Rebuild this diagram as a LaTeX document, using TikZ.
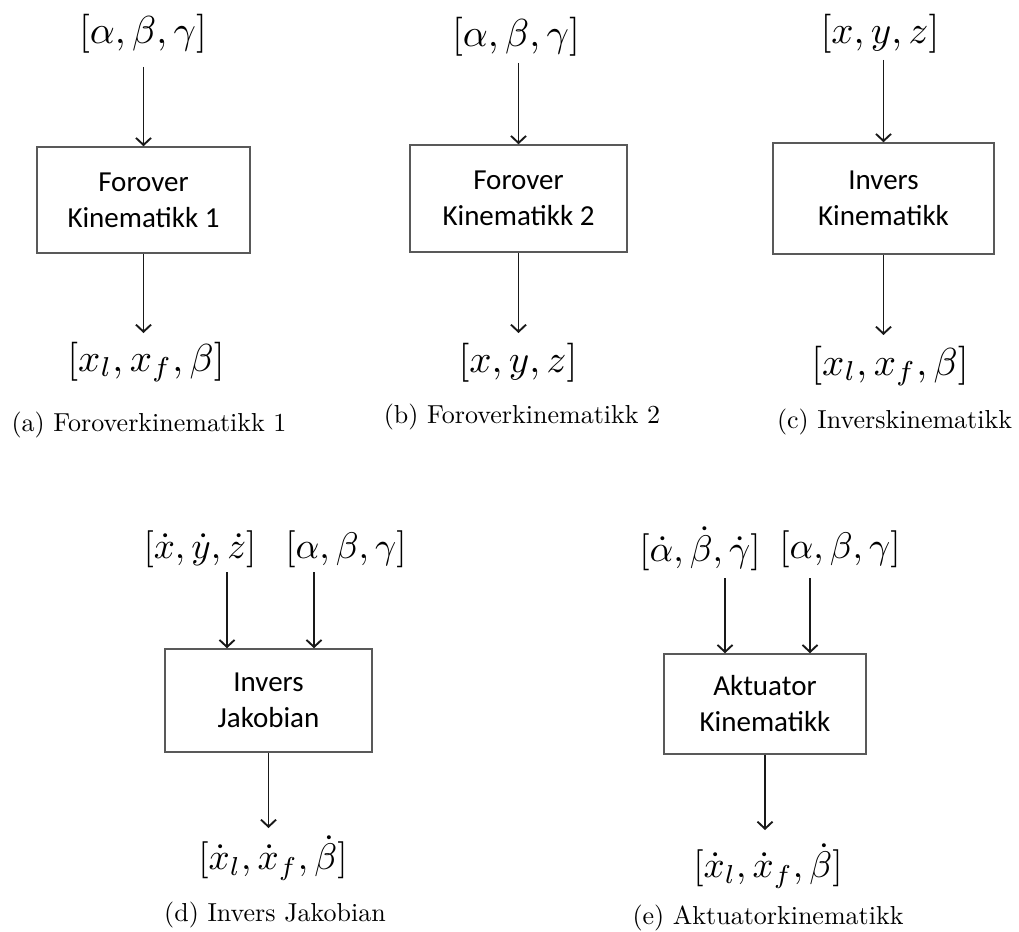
\documentclass[tikz,border=0pt]{standalone}
\usepackage{fontspec}
\newfontfamily\boxfont{Carlito}
\usetikzlibrary{arrows.meta}
\newcommand{\mlabA}[1]{\scalebox{3.9}{$#1$}}
\newcommand{\mlabB}[1]{\scalebox{3.7}{$#1$}}
\newcommand{\caplab}[1]{\scalebox{2.6}{#1}}
\tikzset{
  blk/.style={draw=black!65, line width=1.5pt, inner sep=0pt, align=center,
    font=\boxfont\fontsize{29}{36}\selectfont},
  mth/.style={inner sep=0pt},
  capt/.style={inner sep=0pt, anchor=base},
  arr/.style={draw=black!90, line width=1.9pt,
    -{Straight Barb[length=7pt,width=15pt,line width=1.9pt]}}
}
\begin{document}
\begin{tikzpicture}[x=1pt,y=-1pt]
\fill[white] (0,0) rectangle (1019,931);
\useasboundingbox (0,0) rectangle (1019,931);

% (a)
\node[mth] (ta) at (143,34) {\mlabA{[\alpha,\beta,\gamma]}};
\node[blk, minimum width=213pt, minimum height=106pt] (ba) at (143.5,200) {Forover\\Kinematikk 1};
\node[mth] (oa) at (146,362) {\mlabA{[x_l,x_f,\beta]}};
\node[capt] (ca) at (149,431) {\caplab{(a) Foroverkinematikk 1}};
\coordinate (sa) at (143.5,67);
\coordinate (ea) at (143.5,333);
\draw[arr] (sa) -- (sa |- ba.north);
\draw[arr] (ba.south) -- (ea);

% (b)
\node[mth] (tb) at (516,37) {\mlabA{[\alpha,\beta,\gamma]}};
\node[blk, minimum width=217pt, minimum height=107pt] (bb) at (518.5,198.5) {Forover\\Kinematikk 2};
\node[mth] (ob) at (518,363) {\mlabA{[x,y,z]}};
\node[capt] (cb) at (522,423) {\caplab{(b) Foroverkinematikk 2}};
\coordinate (sb) at (518.5,63);
\coordinate (eb) at (518.5,333);
\draw[arr] (sb) -- (sb |- bb.north);
\draw[arr] (bb.south) -- (eb);

% (c)
\node[mth] (tc) at (880,34) {\mlabA{[x,y,z]}};
\node[blk, minimum width=221pt, minimum height=111pt] (bc) at (883.5,198.5) {Invers\\Kinematikk};
\node[mth] (oc) at (890,366) {\mlabA{[x_l,x_f,\beta]}};
\node[capt] (cc) at (894.5,428) {\caplab{(c) Inverskinematikk}};
\coordinate (sc) at (883.5,60);
\coordinate (ec) at (883.5,335);
\draw[arr] (sc) -- (sc |- bc.north);
\draw[arr] (bc.south) -- (ec);

% (d)
\node[mth] (td1) at (200,549) {\mlabB{[\dot{x},\dot{y},\dot{z}]}};
\node[mth] (td2) at (346,549) {\mlabB{[\alpha,\beta,\gamma]}};
\node[blk, minimum width=207pt, minimum height=103pt] (bd) at (268.5,700.5) {Invers\\Jakobian};
\node[mth] (od) at (273,858) {\mlabB{[\dot{x}_l,\dot{x}_f,\dot{\beta}]}};
\node[capt] (cd) at (275,921) {\caplab{(d) Invers Jakobian}};
\coordinate (sd1) at (227,572);
\coordinate (sd2) at (314,572);
\coordinate (ed) at (268.5,828);
\draw[arr] (sd1) -- (sd1 |- bd.north);
\draw[arr] (sd2) -- (sd2 |- bd.north);
\draw[arr] (bd.south) -- (ed);

% (e)
\node[mth] (te1) at (700,549) {\mlabB{[\dot{\alpha},\dot{\beta},\dot{\gamma}]}};
\node[mth] (te2) at (840,549) {\mlabB{[\alpha,\beta,\gamma]}};
\node[blk, minimum width=202pt, minimum height=100pt] (be) at (765,704) {Aktuator\\Kinematikk};
\node[mth] (oe) at (768,866) {\mlabB{[\dot{x}_l,\dot{x}_f,\dot{\beta}]}};
\node[capt] (ce) at (768,924) {\caplab{(e) Aktuatorkinematikk}};
\coordinate (se1) at (725,578);
\coordinate (se2) at (810,578);
\coordinate (ee) at (765,830);
\draw[arr] (se1) -- (se1 |- be.north);
\draw[arr] (se2) -- (se2 |- be.north);
\draw[arr] (be.south) -- (ee);
\end{tikzpicture}
\end{document}
